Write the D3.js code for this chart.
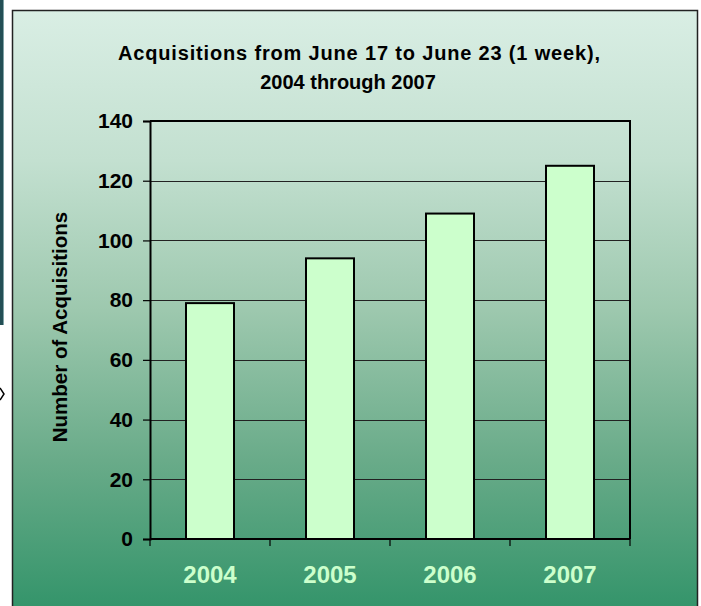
<!DOCTYPE html>
<html>
<head>
<meta charset="utf-8">
<script src="https://cdn.jsdelivr.net/npm/d3@7"></script>
<style>
  body { margin: 0; background: #fff; }
  svg { display: block; font-family: "Liberation Sans", Arial, sans-serif; }
</style>
</head>
<body>
<svg width="701" height="606"></svg>
<script>
var years = ["2004", "2005", "2006", "2007"];
var acquisitions = [79, 94, 109, 125];
var yTicks = [0, 20, 40, 60, 80, 100, 120, 140];
var titleLines = ["Acquisitions from June 17 to June 23 (1 week),", "2004 through 2007"];

var svg = d3.select("svg");

// gradient for the chart panel
var defs = svg.append("defs");
var grad = defs.append("linearGradient")
    .attr("id", "bg")
    .attr("x1", 0).attr("y1", 0).attr("x2", 0).attr("y2", 1);
grad.append("stop").attr("offset", "0%").attr("stop-color", "#d9eee4");
grad.append("stop").attr("offset", "25%").attr("stop-color", "#c3e0d0");
grad.append("stop").attr("offset", "50%").attr("stop-color", "#9dc8ae");
grad.append("stop").attr("offset", "75%").attr("stop-color", "#69ab89");
grad.append("stop").attr("offset", "100%").attr("stop-color", "#33946a");

// bits of the slide behind the chart
svg.append("rect")
    .attr("x", 0).attr("y", 0)
    .attr("width", 4).attr("height", 325)
    .attr("fill", "#234f55");
svg.append("line")
    .attr("x1", 3.5).attr("x2", 3.5).attr("y1", 0).attr("y2", 325)
    .attr("stroke", "#7fa3a6").attr("stroke-width", 1);
svg.append("path")
    .attr("d", "M0,388 L4,394 L0,400")
    .attr("fill", "none")
    .attr("stroke", "#000")
    .attr("stroke-width", 1.5);

svg.append("rect")
    .attr("x", 12.5).attr("y", 10.5)
    .attr("width", 685).attr("height", 600)
    .attr("fill", "url(#bg)")
    .attr("stroke", "#222")
    .attr("stroke-width", 1.5);

var x = d3.scaleBand()
    .domain(years)
    .range([150, 630])
    .paddingInner(0.6)
    .paddingOuter(0.3);

var y = d3.scaleLinear()
    .domain([0, 140])
    .range([539, 121]);

// title
svg.append("g").selectAll("text")
    .data(titleLines)
    .enter().append("text")
    .attr("x", function(d, i) { return i === 0 ? 359 : 348; })
    .attr("y", function(d, i) { return 60 + i * 29; })
    .attr("text-anchor", "middle")
    .attr("textLength", function(d, i) { return i === 0 ? 482 : null; })
    .attr("lengthAdjust", "spacing")
    .style("font-size", "20px")
    .style("font-weight", "bold")
    .style("fill", "#000")
    .text(function(d) { return d; });

// gridlines
svg.append("g").selectAll("line")
    .data(yTicks.slice(1, -1))
    .enter().append("line")
    .attr("x1", 150).attr("x2", 630)
    .attr("y1", function(d) { return Math.round(y(d)) + 0.5; })
    .attr("y2", function(d) { return Math.round(y(d)) + 0.5; })
    .attr("stroke", "#222")
    .attr("stroke-width", 1.2);

// plot frame top/right
svg.append("path")
    .attr("d", "M150," + y(140) + " H630 V" + y(0))
    .attr("fill", "none")
    .attr("stroke", "#000")
    .attr("stroke-width", 2);

// bars
svg.append("g").selectAll("rect")
    .data(acquisitions)
    .enter().append("rect")
    .attr("x", function(d, i) { return x(years[i]); })
    .attr("y", function(d) { return y(d); })
    .attr("width", x.bandwidth())
    .attr("height", function(d) { return y(0) - y(d); })
    .attr("fill", "#ccffcc")
    .attr("stroke", "#000")
    .attr("stroke-width", 2);

// y axis
var yAxis = svg.append("g")
    .attr("transform", "translate(150,0)")
    .call(d3.axisLeft(y).tickValues(yTicks).tickSize(7).tickPadding(10));
yAxis.select(".domain").attr("stroke", "#000").attr("stroke-width", 2);
yAxis.selectAll(".tick line").attr("stroke", "#000").attr("stroke-width", 1.2);
yAxis.selectAll("text")
    .style("font-family", "Liberation Sans, Arial, sans-serif")
    .style("font-size", "21px")
    .style("font-weight", "bold")
    .style("fill", "#000");

// x axis: ticks on category boundaries
var step = x.step();
var xAxis = svg.append("g").attr("transform", "translate(0," + y(0) + ")");
xAxis.append("line")
    .attr("x1", 150).attr("x2", 630)
    .attr("stroke", "#000").attr("stroke-width", 2);
xAxis.selectAll(".xt")
    .data([years[0]].concat(years))
    .enter().append("line")
    .attr("class", "xt")
    .attr("x1", function(d, i) { return i === 0 ? 150 : x(d) + x.bandwidth() + step * 0.3; })
    .attr("x2", function(d, i) { return i === 0 ? 150 : x(d) + x.bandwidth() + step * 0.3; })
    .attr("y1", 0).attr("y2", 7)
    .attr("stroke", "#000").attr("stroke-width", 1.2);
xAxis.selectAll(".xl")
    .data(years)
    .enter().append("text")
    .attr("class", "xl")
    .attr("x", function(d) { return x(d) + x.bandwidth() / 2; })
    .attr("y", 44)
    .attr("text-anchor", "middle")
    .style("font-size", "24px")
    .style("font-weight", "bold")
    .style("fill", "#ccffcc")
    .text(function(d) { return d; });

// y label
svg.append("text")
    .attr("transform", "translate(67,327) rotate(-90)")
    .attr("text-anchor", "middle")
    .style("font-size", "20.5px")
    .style("font-weight", "bold")
    .style("fill", "#000")
    .text("Number of Acquisitions");
</script>
</body>
</html>
